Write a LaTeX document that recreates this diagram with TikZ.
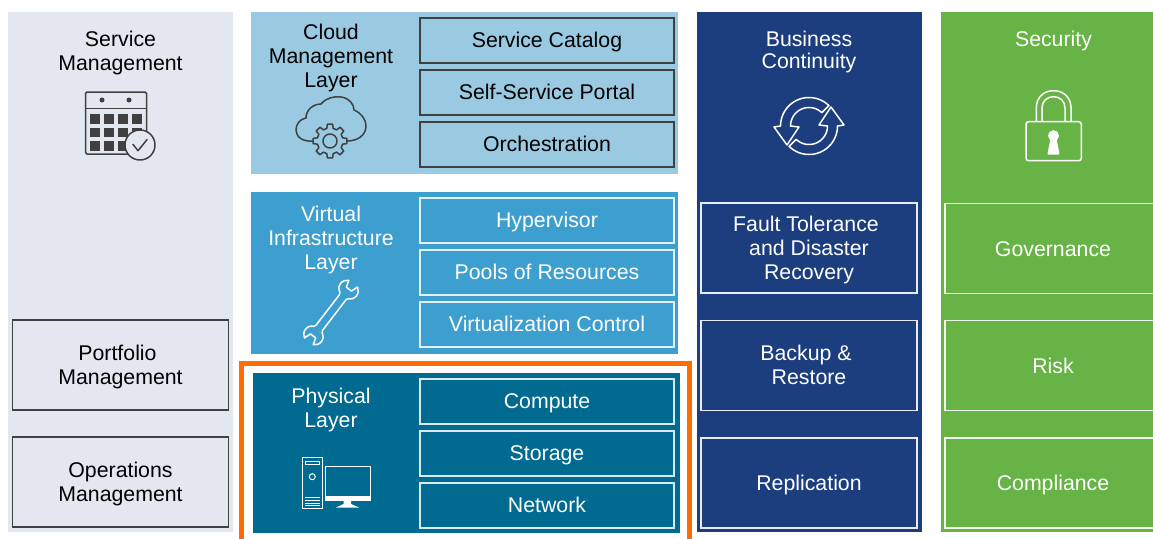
\documentclass[tikz,border=0pt]{standalone}
\usepackage{fontspec}
\setmainfont{Liberation Sans}
\definecolor{servicegray}{HTML}{E3E7F0}
\definecolor{cloudblue}{HTML}{9ACAE2}
\definecolor{virtualblue}{HTML}{3C9FD0}
\definecolor{physicalblue}{HTML}{006A90}
\definecolor{businessblue}{HTML}{1C3E7E}
\definecolor{securitygreen}{HTML}{67B346}
\definecolor{ruleorange}{HTML}{FF6C00}
\definecolor{darkline}{HTML}{404040}
\tikzset{
	panel/.style={anchor=north west, inner sep=0pt, outer sep=0pt},
	panellabel/.style={align=center, inner sep=0pt, font=\fontsize{21.3}{24}\selectfont},
	layeritem/.style={draw, line width=1.1pt, minimum width=254pt, minimum height=45pt, inner sep=0pt, text height=13.5pt, text depth=0pt, font=\fontsize{21.3}{24}\selectfont},
	tallitem/.style={draw, line width=1.1pt, minimum width=216pt, minimum height=90pt, inner sep=0pt, align=center, text depth=0pt, font=\fontsize{21.3}{24}\selectfont},
	plainitem/.style={draw, line width=1.1pt, minimum width=216pt, minimum height=90pt, inner sep=0pt, text height=15pt, text depth=0pt, font=\fontsize{21.3}{24}\selectfont},
	darkitem/.style={draw=darkline, text=black, line width=1.7pt},
	iconline/.style={line width=1.5pt, line join=round}
}
\begin{document}
\begin{tikzpicture}[x=1pt, y=-1pt]
	\useasboundingbox (0,0) rectangle (1153,538);
	\clip (0,0) rectangle (1153,538);
	\draw (8,12) node[panel, fill=servicegray, minimum width=225pt, minimum height=520pt](service){};
	\draw (251,12) node[panel, fill=cloudblue, minimum width=427pt, minimum height=162pt](cloud){};
	\draw (251,192) node[panel, fill=virtualblue, minimum width=427pt, minimum height=162pt](virtual){};
	\draw[ruleorange, line width=5pt] (241.5,546) |- (689,363) -- (689,546);
	\draw (253,373) node[panel, fill=physicalblue, minimum width=427pt, minimum height=160pt](physical){};
	\draw (697,12) node[panel, fill=businessblue, minimum width=225pt, minimum height=520pt](business){};
	\draw (941,12) node[panel, fill=securitygreen, minimum width=225pt, minimum height=520pt](security){};

	\draw (120.5,53) node[panellabel, text=black](servicetitle){Service\\Management};
	\draw (331,58) node[panellabel, text=black](cloudtitle){Cloud\\Management\\Layer};
	\draw (331,240) node[panellabel, text=white](virtualtitle){Virtual\\Infrastructure\\Layer};
	\draw (331,410) node[panellabel, text=white](physicaltitle){Physical\\Layer};
	\draw (809,52) node[panellabel, text=white, font=\fontsize{21.3}{22}\selectfont](businesstitle){Business\\Continuity};
	\draw (1053.5,41) node[panellabel, text=white](securitytitle){Security};

	\draw (120.5,365) node[tallitem, darkitem](portfolio){Portfolio\hspace*{6pt}\\Management};
	\draw (120.5,482) node[tallitem, darkitem](operations){Operations\\Management};

	\draw (547,40.5) node[layeritem, darkitem](catalog){Service Catalog};
	\draw (547,92.5) node[layeritem, darkitem](portal){Self-Service Portal};
	\draw (547,144.5) node[layeritem, darkitem](orchestration){Orchestration};

	\draw (547,220.5) node[layeritem, white!85!virtualblue, text=white](hypervisor){Hypervisor};
	\draw (547,272.5) node[layeritem, white!85!virtualblue, text=white](pools){Pools of Resources};
	\draw (547,324.5) node[layeritem, white!85!virtualblue, text=white](control){Virtualization Control};

	\draw (547,401.5) node[layeritem, white!85!physicalblue, text=white](compute){Compute};
	\draw (547,453.5) node[layeritem, white!85!physicalblue, text=white](storage){Storage};
	\draw (547,505.5) node[layeritem, white!85!physicalblue, text=white](network){Network};

	\draw (809,248) node[tallitem, white!90!businessblue, text=white](fault){Fault Tolerance\hspace*{6pt}\\and Disaster\hspace*{6pt}\\Recovery};
	\draw (809,365.5) node[tallitem, white!90!businessblue, text=white, text depth=2pt](backup){Backup \&\hspace*{6pt}\\Restore};
	\draw (809,483) node[plainitem, white!90!businessblue, text=white](replication){Replication};

	\draw (1053,248.5) node[plainitem, white!90!securitygreen, text=white](governance){Governance};
	\draw (1053,365.5) node[plainitem, white!90!securitygreen, text=white](risk){Risk};
	\draw (1053,483) node[plainitem, white!90!securitygreen, text=white](compliance){Compliance};

	\draw[iconline, darkline, rounded corners=1.5pt] (85.5,92) rectangle (146.5,154);
	\draw[iconline, darkline] (85.5,108.5) -- (146.5,108.5);
	\fill[darkline] (102,100) circle (2.5pt) (129,100) circle (2.5pt);
	\foreach \col in {90,104,118,132}
		\foreach \row in {114,127.5,141}
			\fill[darkline] (\col,\row) rectangle ++(10,9.5);
	\draw[iconline, darkline, fill=servicegray] (140,145) circle (15pt);
	\draw[iconline, darkline] (132.7,144) -- (138,150.7) -- (147.3,139.3);

	\draw[iconline, darkline] (313,141) .. controls (303,142) and (296,137) .. (296,130)
		.. controls (296,124) and (300,119) .. (306,118)
		.. controls (306,110) and (313,104) .. (321,104)
		.. controls (326,98) and (334,96) .. (341,97)
		.. controls (349,98) and (354,104) .. (354,110)
		.. controls (361,113) and (366,119) .. (366,126)
		.. controls (366,135) and (358,141) .. (347,141);
	\draw[iconline, darkline, fill=cloudblue, shift={(330,141)}] (-14:13)
		\foreach \ang in {0,45,...,315}{ -- (\ang-14:13) -- (\ang-9:17) -- (\ang+9:17) -- (\ang+14:13) } -- cycle;
	\draw[iconline, darkline] (330,141) circle (7pt);

	\draw[iconline, white, shift={(331,312.5)}, rotate=52.5, scale=0.92] (21,-4.5)
		.. controls (25,-5) and (24,-11) .. (31,-11)
		.. controls (35,-11) and (38,-9) .. (39.5,-6) -- (32,-3.5) -- (32,3.5) -- (39.5,6)
		.. controls (38,9) and (35,11) .. (31,11)
		.. controls (24,11) and (25,5) .. (21,4.5) -- (-21,4.5)
		.. controls (-25,5) and (-24,11) .. (-31,11)
		.. controls (-35,11) and (-38,9) .. (-39.5,6) -- (-32,3.5) -- (-32,-3.5) -- (-39.5,-6)
		.. controls (-38,-9) and (-35,-11) .. (-31,-11)
		.. controls (-24,-11) and (-25,-5) .. (-21,-4.5) -- cycle;

	\draw[white, line width=1.2pt] (302.3,457.7) rectangle (322.3,508.3);
	\draw[white, line width=1pt] (305,461) rectangle (319,464.5);
	\draw[white, line width=1pt] (312.3,476.7) circle (3pt);
	\foreach \row in {497.7,500.7,503.3,505.6}
		\draw[white, line width=1pt] (305,\row) -- (320,\row);
	\draw[white, line width=1pt] (325.3,466) rectangle (370,500);
	\fill[white] (325.3,496) rectangle (370,500.5);
	\fill[white] (343.5,500) -- (343.5,504) -- (336,507.5) -- (359,507.5) -- (351,504) -- (351,500) -- cycle;

	\foreach \ang in {0,180}
		\draw[iconline, white, shift={(809,126)}, rotate=\ang] (20,-20.5)
			-- plot[domain=46:180, samples=24] ({28.5*cos(\x)},{-28.5*sin(\x)})
			-- (-35,1) -- (-22,19) -- (-10,1) -- (-18.5,0)
			-- plot[domain=180:46, samples=24] ({18.5*cos(\x)},{-18.5*sin(\x)}) -- cycle;

	\draw[iconline, white, rounded corners=2.5pt] (1026,121.7) rectangle (1081.3,160.7);
	\draw[iconline, white] (1036.3,121.7) -- (1036.3,108) .. controls (1036.3,97) and (1044,90.7) .. (1053.6,90.7)
		.. controls (1063,90.7) and (1071,97) .. (1071,108) -- (1071,121.7);
	\draw[iconline, white] (1042,121.7) -- (1042,108) .. controls (1042,101) and (1047,96.7) .. (1053.6,96.7)
		.. controls (1060,96.7) and (1065,101) .. (1065,108) -- (1065,121.7);
	\fill[white] (1053.5,135.7) circle (5.5pt);
	\fill[white, rounded corners=1pt] (1051,136) -- (1047.3,154.5) -- (1059.6,154.5) -- (1056,136) -- cycle;
\end{tikzpicture}
\end{document}
